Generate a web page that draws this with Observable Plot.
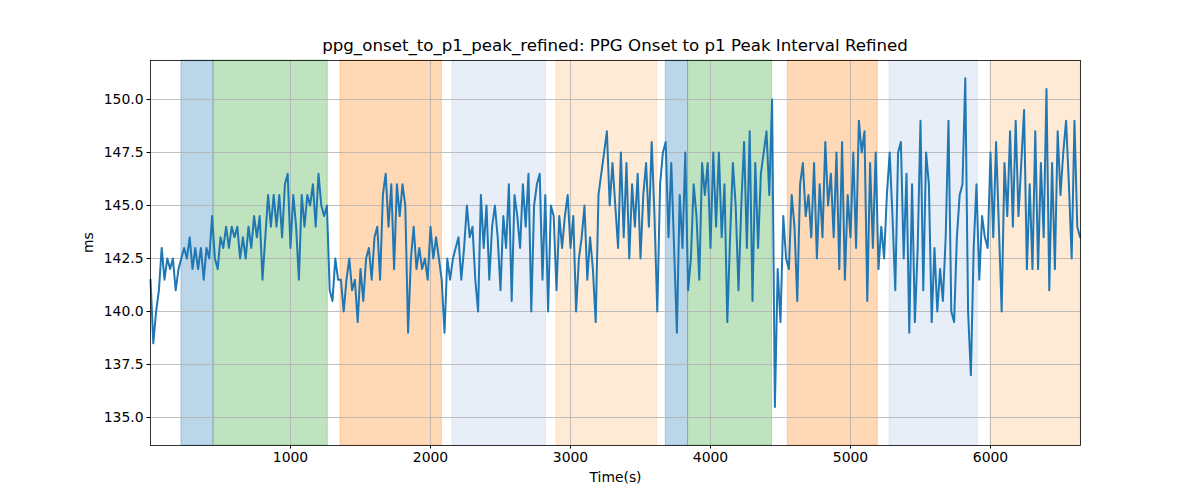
<!DOCTYPE html>
<html>
<head>
<meta charset="utf-8">
<script src="https://cdn.jsdelivr.net/npm/d3@7"></script>
<script src="https://cdn.jsdelivr.net/npm/@observablehq/plot@0.6"></script>
<style>
  html, body { margin: 0; padding: 0; background: #fff; }
  #wrap { position: relative; width: 1200px; height: 500px; }
  #title { position: absolute; left: 150px; width: 930px; top: 35px; line-height: 22px;
           text-align: center; font-family: "DejaVu Sans", sans-serif; font-size: 16.67px; color: #000; }
  #chart { position: absolute; left: 0; top: 0; }
</style>
</head>
<body>
<div id="wrap">
  <div id="chart"></div>
  <div id="title">ppg_onset_to_p1_peak_refined: PPG Onset to p1 Peak Interval Refined</div>
</div>
<script>
// sample spacing (seconds) of the series
const sampleStep = 20;

// series values (ms), one every sampleStep seconds starting at 0
const values = [
  141.5, 138.5, 140, 141, 143, 141.5, 142.5, 142, 142.5, 141,
  142, 142.5, 143, 142.5, 143.5, 142, 143, 142, 143, 141.5,
  143, 142.5, 144.5, 142.5, 142, 143.5, 143, 144, 143, 144,
  143.5, 144, 142.5, 143.5, 142.5, 144, 143, 144.5, 143.5, 144.5,
  141.5, 143.5, 145.5, 144, 145.5, 144, 145.5, 143.5, 146, 146.5,
  143, 145.5, 144, 141.5, 145.5, 144, 145.5, 145, 146, 144,
  146.5, 145, 144.5, 145, 141, 140.5, 142.5, 141.5,
  141.5, 140, 141.5, 142.5, 141, 141.5, 139.5, 142, 140.5, 142.5,
  143, 141.5, 143.5, 144, 141.5, 145.5, 146.5, 144, 146, 142,
  146, 144.5, 146, 145, 139, 142.5, 144, 142, 143, 142,
  142.5, 141.5, 144, 142.5, 143.5, 142.5, 141.5, 139, 142.5, 141.5,
  142.5, 143, 143.5, 141.5, 143, 145, 143.5, 144, 141.5, 140,
  145.5, 143, 145, 141.5, 144, 145, 143.5, 141, 144.5, 143,
  146, 140.5, 145.5, 144.5, 143, 146, 144, 146.5,
  140, 145, 146, 146.5, 141.5, 145.5, 140, 145, 144.5, 141,
  144.5, 143, 144.5, 145.5, 143, 144.5, 140, 142.5, 143.5, 145,
  141.5, 143.5, 142, 139.5, 145.5, 146.5, 147.5, 148.5, 145, 147,
  145, 143, 147.5, 143.5, 147, 142.5, 146, 144, 146.5, 142.5,
  145.5, 147, 144, 148, 144.5, 140, 146, 147.5, 148, 143.5,
  147, 143, 139, 145.5, 143, 147.5, 141, 142.5, 146, 144.5,
  141.5, 147, 145.5, 147, 143, 147.5, 144, 147.5,
  143.5, 146, 139.5, 143.5, 147, 145, 141, 145, 148, 143,
  148.5, 140.5, 147, 143, 146.5, 147.5, 148.5, 145.5, 150, 135.5,
  142, 139.5, 144.5, 142.5, 142, 145.5, 144, 140.5, 146, 147,
  144.5, 145.5, 143.5, 147, 142.5, 146, 143.5, 148, 145, 146.5,
  143.5, 147.5, 142, 148, 141.5, 145.5, 143.5, 147.5, 143, 149,
  147.5, 148.5, 140.5, 147, 143, 147.5, 142, 144, 142.5, 145.5,
  147.5, 144.5, 141, 147.5, 148, 142.5, 146.5, 139,
  146, 139.5, 143, 149, 141, 147.5, 146, 139.5, 143, 140,
  142, 140.5, 143.5, 149, 140, 139.5, 143.5, 145.5, 146, 151,
  140, 137, 143, 146, 141.5, 144.5, 143.5, 143, 147.5, 143.5,
  148, 144, 140, 147, 144.5, 148.5, 144, 149, 144.5, 147,
  149.5, 142, 146, 142, 148.5, 142, 147, 143.5, 150.5, 141,
  147, 142, 148.5, 145.5, 147.5, 149, 146, 142.5, 149, 144, 143.5
];

// shaded phase spans (seconds)
const spanStart = [221, 450, 1357, 2158, 2900, 3681, 3840, 4552, 5279, 6000];
const spanEnd   = [450, 1266, 2081, 2825, 3620, 3840, 4440, 5195, 5910, 6643];
const spanColor = ["#1f77b4", "#2ca02c", "#ff7f0e", "#aec7e8", "#ffbb78",
                   "#1f77b4", "#2ca02c", "#ff7f0e", "#aec7e8", "#ffbb78"];

// axis ticks
const xTicks = [1000, 2000, 3000, 4000, 5000, 6000];
const yTicks = [135, 137.5, 140, 142.5, 145, 147.5, 150];

const series = values.map((v, i) => ({t: i * sampleStep, v}));
const spans = spanStart.map((s, i) => ({x1: s, x2: spanEnd[i], c: spanColor[i]}));

const chart = Plot.plot({
  width: 1200,
  height: 500,
  marginTop: 60,
  marginBottom: 55,
  marginLeft: 150,
  marginRight: 120,
  style: {fontFamily: "DejaVu Sans, sans-serif", fontSize: "13.9px", color: "#000", background: "#fff"},
  x: {domain: [0, 6643]},
  y: {domain: [133.68, 151.84]},
  color: {type: "identity"},
  marks: [
    Plot.rect(spans, {x1: "x1", x2: "x2", fill: "c", fillOpacity: 0.3, stroke: "c", strokeOpacity: 0.3, strokeWidth: 1}),
    Plot.gridX({ticks: xTicks, stroke: "#b0b0b0", strokeOpacity: 1, strokeWidth: 0.8}),
    Plot.gridY({ticks: yTicks, stroke: "#b0b0b0", strokeOpacity: 1, strokeWidth: 0.8}),
    Plot.line(series, {x: "t", y: "v", stroke: "#1f77b4", strokeWidth: 2, strokeLinejoin: "round"}),
    Plot.frame({stroke: "#000", strokeWidth: 0.8}),
    Plot.axisX({ticks: xTicks, tickSize: 3.5, tickPadding: 3.5, label: null, tickFormat: d3.format("d")}),
    Plot.axisY({ticks: yTicks, tickSize: 3.5, tickPadding: 3.5, label: null, tickFormat: d3.format(".1f")}),
    Plot.text(["Time(s)"], {frameAnchor: "bottom", dy: 36, text: d => d, fontSize: 13.9}),
    Plot.text(["ms"], {frameAnchor: "left", dx: -62, rotate: -90, text: d => d, fontSize: 13.9})
  ]
});
document.getElementById("chart").appendChild(chart);
</script>
</body>
</html>
